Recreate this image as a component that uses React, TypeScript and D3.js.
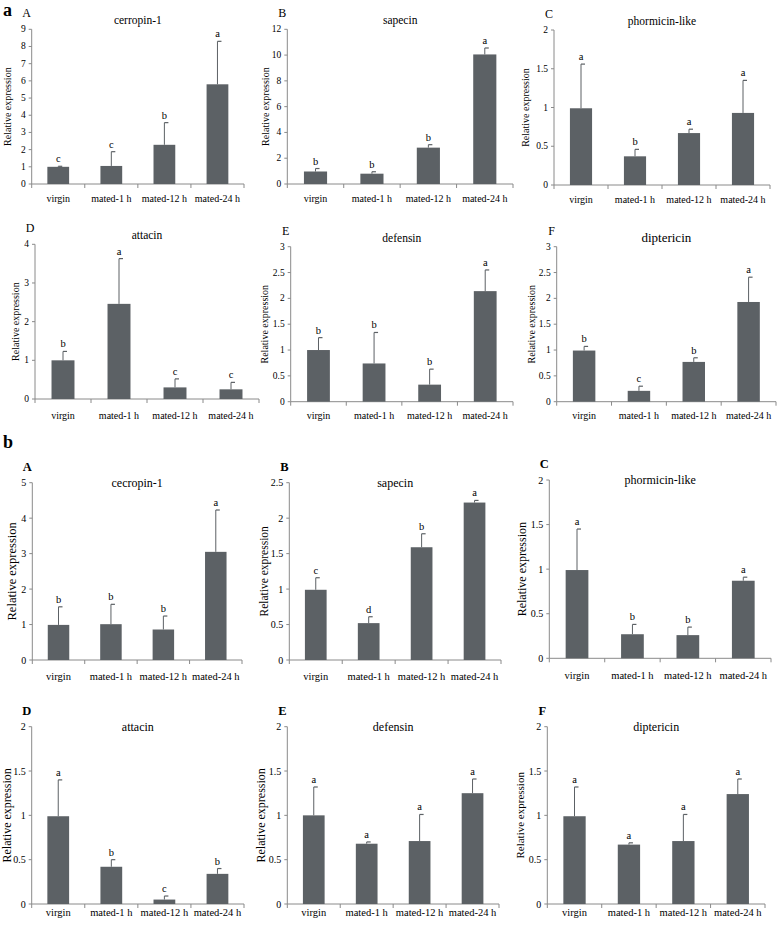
import React from 'react';
import * as d3 from 'd3';

const categories = ['virgin', 'mated-1 h', 'mated-12 h', 'mated-24 h'];

// figure a
const aCerropinMean = [1.0, 1.05, 2.28, 5.8];
const aCerropinErr = [0.03, 0.83, 1.29, 2.5];
const aCerropinSig = ['c', 'c', 'b', 'a'];

const aSapecinMean = [0.97, 0.8, 2.82, 10.05];
const aSapecinErr = [0.23, 0.15, 0.23, 0.5];
const aSapecinSig = ['b', 'b', 'b', 'a'];

const aPhormicinMean = [0.99, 0.37, 0.67, 0.93];
const aPhormicinErr = [0.57, 0.09, 0.05, 0.42];
const aPhormicinSig = ['a', 'b', 'a', 'a'];

const aAttacinMean = [1.0, 2.46, 0.3, 0.25];
const aAttacinErr = [0.23, 1.17, 0.22, 0.18];
const aAttacinSig = ['b', 'a', 'c', 'c'];

const aDefensinMean = [1.0, 0.74, 0.33, 2.14];
const aDefensinErr = [0.24, 0.6, 0.3, 0.41];
const aDefensinSig = ['b', 'b', 'b', 'a'];

const aDiptericinMean = [0.99, 0.21, 0.77, 1.93];
const aDiptericinErr = [0.08, 0.09, 0.08, 0.48];
const aDiptericinSig = ['b', 'c', 'b', 'a'];

// figure b
const bCecropinMean = [0.99, 1.01, 0.86, 3.05];
const bCecropinErr = [0.51, 0.56, 0.38, 1.18];
const bCecropinSig = ['b', 'b', 'b', 'a'];

const bSapecinMean = [0.99, 0.52, 1.59, 2.22];
const bSapecinErr = [0.17, 0.09, 0.19, 0.03];
const bSapecinSig = ['c', 'd', 'b', 'a'];

const bPhormicinMean = [0.99, 0.27, 0.26, 0.87];
const bPhormicinErr = [0.46, 0.11, 0.09, 0.04];
const bPhormicinSig = ['a', 'b', 'b', 'a'];

const bAttacinMean = [0.99, 0.42, 0.05, 0.34];
const bAttacinErr = [0.41, 0.08, 0.04, 0.06];
const bAttacinSig = ['a', 'b', 'c', 'b'];

const bDefensinMean = [1.0, 0.68, 0.71, 1.25];
const bDefensinErr = [0.32, 0.02, 0.3, 0.16];
const bDefensinSig = ['a', 'a', 'a', 'a'];

const bDiptericinMean = [0.99, 0.67, 0.71, 1.24];
const bDiptericinErr = [0.33, 0.02, 0.3, 0.17];
const bDiptericinSig = ['a', 'a', 'a', 'a'];

const yMax = [9, 12, 2, 4, 3, 3, 5, 2.5, 2, 2, 2, 2];
const yStep = [1, 2, 0.5, 1, 0.5, 0.5, 1, 0.5, 0.5, 0.5, 0.5, 0.5];

const BAR = '#5c6165';
const AXIS = '#8a8a8a';
const FONT = "'Liberation Serif', 'Times New Roman', Times, 'DejaVu Serif', serif";

interface PanelSpec {
  letter: string;
  title: string;
  mean: number[];
  err: number[];
  sig: string[];
  max: number;
  step: number;
  x0: number;
  x1: number;
  top: number;
  bottom: number;
  labelOff: number;
  labelFs: number;
  catDy: number;
  bold: boolean;
  big: boolean;
}

const layout = [
  { x0: 31.7, x1: 244, top: 29.3, bottom: 184, labelOff: 24, labelFs: 10, catDy: 18 },
  { x0: 287.3, x1: 513, top: 29.3, bottom: 184, labelOff: 22, labelFs: 10, catDy: 18 },
  { x0: 554, x1: 770, top: 30, bottom: 185, labelOff: 29, labelFs: 10, catDy: 18 },
  { x0: 35, x1: 259, top: 244.3, bottom: 399, labelOff: 20, labelFs: 10, catDy: 20 },
  { x0: 290.7, x1: 513, top: 246.7, bottom: 401.7, labelOff: 26, labelFs: 10, catDy: 17 },
  { x0: 556.7, x1: 776, top: 246.7, bottom: 401.7, labelOff: 25, labelFs: 10, catDy: 17 },
  { x0: 32.3, x1: 242, top: 482.7, bottom: 660, labelOff: 20, labelFs: 12.5, catDy: 20 },
  { x0: 289.3, x1: 501, top: 482.7, bottom: 660, labelOff: 25, labelFs: 11.5, catDy: 20 },
  { x0: 549.3, x1: 771, top: 480, bottom: 658.3, labelOff: 27, labelFs: 12, catDy: 21 },
  { x0: 31.7, x1: 244, top: 726.7, bottom: 904, labelOff: 25, labelFs: 12, catDy: 12 },
  { x0: 287.3, x1: 499, top: 726.7, bottom: 904, labelOff: 26, labelFs: 12, catDy: 12 },
  { x0: 547.3, x1: 765, top: 726.7, bottom: 904, labelOff: 27, labelFs: 11, catDy: 12 },
];

const series = [
  ['A', 'cerropin-1', aCerropinMean, aCerropinErr, aCerropinSig],
  ['B', 'sapecin', aSapecinMean, aSapecinErr, aSapecinSig],
  ['C', 'phormicin-like', aPhormicinMean, aPhormicinErr, aPhormicinSig],
  ['D', 'attacin', aAttacinMean, aAttacinErr, aAttacinSig],
  ['E', 'defensin', aDefensinMean, aDefensinErr, aDefensinSig],
  ['F', 'diptericin', aDiptericinMean, aDiptericinErr, aDiptericinSig],
  ['A', 'cecropin-1', bCecropinMean, bCecropinErr, bCecropinSig],
  ['B', 'sapecin', bSapecinMean, bSapecinErr, bSapecinSig],
  ['C', 'phormicin-like', bPhormicinMean, bPhormicinErr, bPhormicinSig],
  ['D', 'attacin', bAttacinMean, bAttacinErr, bAttacinSig],
  ['E', 'defensin', bDefensinMean, bDefensinErr, bDefensinSig],
  ['F', 'diptericin', bDiptericinMean, bDiptericinErr, bDiptericinSig],
] as [string, string, number[], number[], string[]][];

const panels: PanelSpec[] = series.map((s, i) => ({
  letter: s[0],
  title: s[1],
  mean: s[2],
  err: s[3],
  sig: s[4],
  max: yMax[i],
  step: yStep[i],
  ...layout[i],
  bold: i >= 6,
  big: i >= 6,
}));

const Panel: React.FC<{ p: PanelSpec }> = ({ p }) => {
  const x = d3.scaleBand<string>().domain(categories).range([p.x0, p.x1]);
  const y = d3.scaleLinear().domain([0, p.max]).range([p.bottom, p.top]);
  const ticks = d3.range(0, p.max + p.step / 2, p.step);
  const bw = x.bandwidth() * 0.41;
  const tickFs = p.big ? 10 : 9.5;
  const catFs = p.big ? 10.5 : 10;
  const titleFs = p.big ? 12 : p.title === 'diptericin' ? 13 : 11.5;
  const titleDy = p.big ? 4 : -5;
  const bounds = [...categories.map((c) => x(c)!), p.x1];

  return (
    <g style={{ fontFamily: FONT }}>
      <text
        x={p.x0 - 5}
        y={p.top - 12}
        fontSize={p.bold ? 12.5 : 12}
        fontWeight={p.bold ? 'bold' : 'normal'}
        textAnchor="middle"
      >
        {p.letter}
      </text>
      <text x={(p.x0 + p.x1) / 2} y={p.top + titleDy} fontSize={titleFs} textAnchor="middle">
        {p.title}
      </text>
      <text
        transform={`translate(${p.x0 - p.labelOff},${(p.top + p.bottom) / 2}) rotate(-90)`}
        fontSize={p.labelFs}
        textAnchor="middle"
        dominantBaseline="central"
      >
        Relative expression
      </text>
      {/* y axis */}
      <line x1={p.x0} x2={p.x0} y1={p.top} y2={p.bottom} stroke={AXIS} strokeWidth={1} />
      {ticks.map((t) => (
        <g key={t}>
          <line x1={p.x0 - 3} x2={p.x0} y1={y(t)} y2={y(t)} stroke={AXIS} />
          <text x={p.x0 - 6} y={y(t)} fontSize={tickFs} textAnchor="end" dominantBaseline="central">
            {d3.format('~g')(t)}
          </text>
        </g>
      ))}
      {/* x axis */}
      <line x1={p.x0} x2={p.x1} y1={p.bottom} y2={p.bottom} stroke={AXIS} strokeWidth={1} />
      {bounds.map((b, i) => (
        <line key={i} x1={b} x2={b} y1={p.bottom} y2={p.bottom + 4} stroke={AXIS} />
      ))}
      {categories.map((c, i) => {
        const cx = x(c)! + x.bandwidth() / 2;
        const topV = p.mean[i] + p.err[i];
        return (
          <g key={c}>
            <rect x={cx - bw / 2} y={y(p.mean[i])} width={bw} height={p.bottom - y(p.mean[i])} fill={BAR} />
            <line x1={cx} x2={cx} y1={y(p.mean[i])} y2={y(topV)} stroke={BAR} strokeWidth={1} />
            <line x1={cx} x2={cx + 4} y1={y(topV)} y2={y(topV)} stroke={BAR} strokeWidth={1.2} />
            <text x={cx} y={y(topV) - 4} fontSize={10.5} textAnchor="middle">
              {p.sig[i]}
            </text>
            <text x={cx} y={p.bottom + p.catDy} fontSize={catFs} textAnchor="middle">
              {c}
            </text>
          </g>
        );
      })}
    </g>
  );
};

export default function App() {
  return (
    <svg
      width={778}
      height={927}
      style={{ position: 'absolute', left: 0, top: 0, background: '#fff' }}
    >
      <rect width={778} height={927} fill="#fff" />
      <text x={3} y={16} style={{ fontFamily: FONT }} fontSize={18} fontWeight="bold">a</text>
      <text x={3} y={448} style={{ fontFamily: FONT }} fontSize={18} fontWeight="bold">b</text>
      {panels.map((p, i) => (
        <Panel key={i} p={p} />
      ))}
    </svg>
  );
}
